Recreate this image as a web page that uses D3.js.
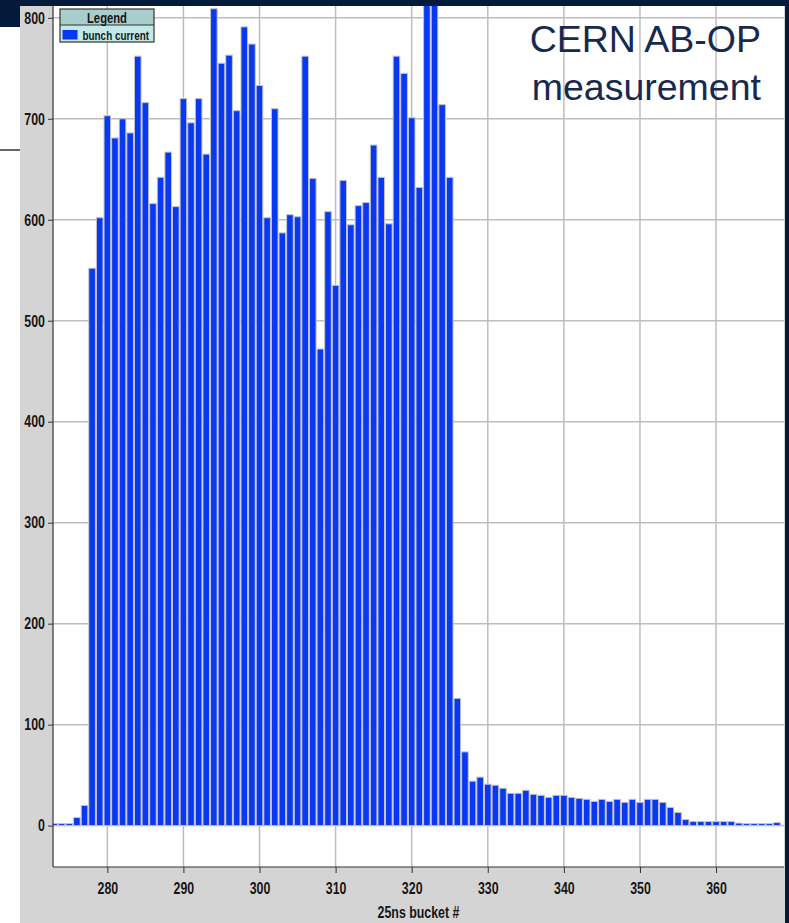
<!DOCTYPE html>
<html>
<head>
<meta charset="utf-8">
<script src="https://cdn.jsdelivr.net/npm/d3@7"></script>
<style>
  body { margin: 0; background: #fff; }
  svg { display: block; }
</style>
</head>
<body>
<div id="chart"></div>
<script>
// bucket numbers (25ns buckets) and measured bunch current
const buckets = d3.range(273, 369);
const current = [
  2, 2, 2, 8, 20,                                     // 273-277
  552, 602, 703, 681, 700, 686, 762, 716, 616, 642,   // 278-287
  667, 613, 720, 696, 720, 665, 809, 755, 763, 708,   // 288-297
  791, 774, 733, 602, 710, 587, 605, 603, 762, 641,   // 298-307
  472, 608, 535, 639, 595, 614, 617, 674, 642, 596,   // 308-317
  762, 745, 701, 632, 830, 830, 714, 642, 126, 73,    // 318-327
  44, 48, 41, 40, 37, 32, 32, 35, 31, 30,             // 328-337
  28, 30, 30, 28, 27, 26, 24, 26, 24, 26,             // 338-347
  23, 26, 23, 26, 26, 23, 18, 13, 6, 4,               // 348-357
  4, 4, 4, 4, 4, 2.5, 2, 2, 2, 2, 3                   // 358-368
];
const xTicks = [280, 290, 300, 310, 320, 330, 340, 350, 360];
const yTicks = [0, 100, 200, 300, 400, 500, 600, 700, 800];
const seriesName = "bunch current";
const xTitle = "25ns bucket #";
const note = ["CERN AB-OP", "measurement"];

const data = buckets.map((b, i) => ({ b: b, v: current[i] }));

const W = 789, H = 923;
const plot = { left: 53, right: 784, top: 6, bottom: 867 };
const squeeze = 0.75; // the original uses a narrow bold face

const x = d3.scaleLinear().domain([272.86, 368.93]).range([plot.left, plot.right]);
const y = d3.scaleLinear().domain([-41, 811.7]).range([plot.bottom, plot.top]);

function narrow(sel, size) {
  sel.attr("font-family", "'Liberation Sans', Arial, sans-serif")
     .attr("font-weight", "bold")
     .attr("font-size", size)
     .attr("fill", "#161616");
}

const svg = d3.select("#chart").append("svg")
    .attr("width", W)
    .attr("height", H);

// slide background pieces
svg.append("rect").attr("width", W).attr("height", H).attr("fill", "#fff");
svg.append("rect").attr("x", 20).attr("y", 0).attr("width", W - 20).attr("height", H).attr("fill", "#d4d4d4");
svg.append("rect").attr("x", 0).attr("y", 0).attr("width", 20).attr("height", 27).attr("fill", "#031a3a");
svg.append("line").attr("x1", 0).attr("x2", 20).attr("y1", 150).attr("y2", 150)
    .attr("stroke", "#333").attr("stroke-width", 1.5);

// plot area
svg.append("rect")
    .attr("x", plot.left).attr("y", plot.top)
    .attr("width", plot.right - plot.left).attr("height", plot.bottom - plot.top)
    .attr("fill", "#fff");

svg.append("clipPath").attr("id", "clip")
  .append("rect")
    .attr("x", plot.left).attr("y", plot.top)
    .attr("width", plot.right - plot.left).attr("height", plot.bottom - plot.top);

// grid
const grid = svg.append("g").attr("clip-path", "url(#clip)");
grid.selectAll(".hg").data(yTicks).enter().append("line")
    .attr("x1", plot.left).attr("x2", plot.right)
    .attr("y1", d => y(d)).attr("y2", d => y(d))
    .attr("stroke", "#bdbdbd").attr("stroke-width", 1.5);
grid.selectAll(".vg").data(xTicks).enter().append("line")
    .attr("x1", d => x(d)).attr("x2", d => x(d))
    .attr("y1", plot.top).attr("y2", plot.bottom)
    .attr("stroke", "#bdbdbd").attr("stroke-width", 1.5);

// bars
const step = x(1) - x(0);
svg.append("g").attr("clip-path", "url(#clip)")
  .selectAll("rect").data(data).enter().append("rect")
    .attr("x", d => x(d.b - 0.5) + 0.5)
    .attr("width", step - 1)
    .attr("y", d => y(d.v))
    .attr("height", d => y(0) - y(d.v))
    .attr("fill", "#0838f2")
    .attr("stroke", "#c4c4c4")
    .attr("stroke-width", 1);

// axes
const yAxis = svg.append("g")
    .attr("transform", "translate(" + plot.left + ",0)")
    .call(d3.axisLeft(y).tickValues(yTicks).tickSize(5).tickPadding(3).tickSizeOuter(0));
const xAxis = svg.append("g")
    .attr("transform", "translate(0," + plot.bottom + ")")
    .call(d3.axisBottom(x).tickValues(xTicks).tickSize(6).tickPadding(9).tickSizeOuter(0).tickFormat(d3.format("d")));

[yAxis, xAxis].forEach(a => {
  a.select(".domain").attr("stroke", "#333").attr("stroke-width", 1.2);
  a.selectAll(".tick line").attr("stroke", "#333");
  a.selectAll(".tick text").call(narrow, 16.5)
    .attr("transform", "scale(" + squeeze + ",1)");
});
yAxis.selectAll(".tick text").attr("x", -8 / squeeze);
yAxis.select(".domain").attr("d", "M0," + plot.top + "V" + plot.bottom);
xAxis.select(".domain").attr("d", "M" + plot.left + ",0H" + plot.right);

svg.append("g")
    .attr("transform", "translate(" + ((plot.left + plot.right) / 2) + ",918)")
  .append("text")
    .call(narrow, 16.5)
    .attr("text-anchor", "middle")
    .attr("transform", "scale(" + squeeze + ",1)")
    .text(xTitle);

// legend
const lg = svg.append("g");
lg.append("rect").attr("x", 60).attr("y", 9).attr("width", 94).attr("height", 16).attr("fill", "#a8cdcd");
lg.append("rect").attr("x", 60).attr("y", 25).attr("width", 94).attr("height", 17).attr("fill", "#c2e8e8");
lg.append("rect").attr("x", 60).attr("y", 9).attr("width", 94).attr("height", 33)
    .attr("fill", "none").attr("stroke", "#333").attr("stroke-width", 1.2);
lg.append("line").attr("x1", 60).attr("x2", 154).attr("y1", 25).attr("y2", 25)
    .attr("stroke", "#333").attr("stroke-width", 1.2);
lg.append("g").attr("transform", "translate(107,22.5)")
  .append("text").call(narrow, 15)
    .attr("text-anchor", "middle")
    .attr("transform", "scale(" + squeeze + ",1)")
    .text("Legend");
lg.append("rect").attr("x", 62.5).attr("y", 30).attr("width", 15).attr("height", 9.5).attr("fill", "#0838f2");
lg.append("g").attr("transform", "translate(82.5,39.5)")
  .append("text").call(narrow, 13.2)
    .attr("transform", "scale(" + squeeze + ",1)")
    .text(seriesName);

// annotation
svg.append("text")
    .attr("x", 761).attr("y", 52)
    .attr("text-anchor", "end")
    .attr("font-family", "'Liberation Sans', Arial, sans-serif")
    .attr("font-size", 37.5)
    .attr("fill", "#17294f")
  .selectAll("tspan").data(note).enter().append("tspan")
    .attr("x", 761)
    .attr("dy", (d, i) => i === 0 ? 0 : 48)
    .text(d => d);

// navy frame of the slide
svg.append("rect").attr("x", 20).attr("y", 0).attr("width", W - 20).attr("height", 6).attr("fill", "#031a3a");
svg.append("rect").attr("x", 785).attr("y", 0).attr("width", 4).attr("height", H).attr("fill", "#031a3a");
</script>
</body>
</html>
